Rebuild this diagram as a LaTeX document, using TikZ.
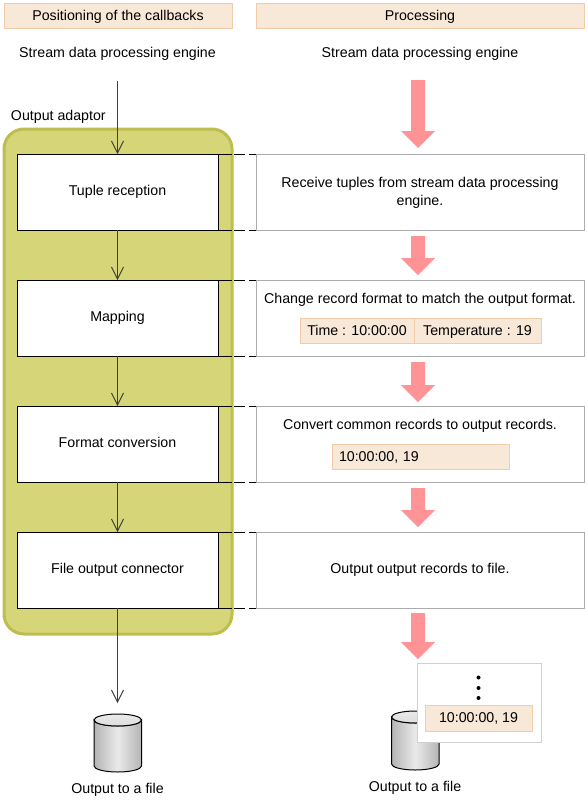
\documentclass[tikz,border=0pt]{standalone}
\usepackage{fontspec}
\setmainfont{Liberation Sans}
\usetikzlibrary{arrows.meta}
\definecolor{peachf}{HTML}{F8E8D8}
\definecolor{peachd}{HTML}{F0CCA8}
\definecolor{yelf}{HTML}{D6D678}
\definecolor{yeld}{HTML}{BDBD50}
\definecolor{pinka}{HTML}{FF9396}
\definecolor{linec}{HTML}{404040}
\definecolor{boxg}{HTML}{ABABAB}
\definecolor{cyls}{HTML}{B4B4B4}
\definecolor{cylm}{HTML}{EAEAEA}
\newcommand{\pinkarrow}[2]{\fill[pinka] (411,#1) -- (425,#1) -- (425,#2-17) -- (435,#2-17) -- (418,#2) -- (401,#2-17) -- (411,#2-17) -- cycle;}
\newcommand{\cyl}[3]{%
 \shade[left color=cyls,right color=cyls,middle color=cylm,draw=black,line width=.75pt]
  (#1,#2+6) -- ++(0,#3-12)
  arc[start angle=180,end angle=360,x radius=23.75,y radius=-6] -- ++(0,-#3+12)
  arc[start angle=0,end angle=-180,x radius=23.75,y radius=-6] -- cycle;
 \shade[top color=cylm,bottom color=cylm!75!cyls,draw=black,line width=.75pt]
  (#1+23.75,#2+6) ellipse[x radius=23.75,y radius=6];}
\tikzset{
 x=0.75pt,y=-0.75pt,
 txt/.style={font=\fontsize{10.65}{13.5}\selectfont,inner sep=0pt,outer sep=0pt,align=center,text=black},
 sl/.style={txt,text height=7pt,text depth=2.5pt},
 hdr/.style={txt,text height=8.5pt,text depth=1.7pt,draw=peachd,fill=peachf,line width=.75pt,anchor=north west,minimum height=18.75pt},
 stage/.style={txt,text height=7.7pt,text depth=2.5pt,draw=black,fill=white,line width=.75pt,anchor=north west,minimum width=150.75pt,minimum height=57pt},
 descbox/.style={draw=boxg,fill=white,line width=.75pt,anchor=north west,minimum width=246pt,minimum height=57pt,inner sep=0pt,outer sep=0pt},
 rec/.style={hdr},
 flow/.style={draw=linec,line width=.75pt,-{Straight Barb[length=9pt,width=9pt,line width=.75pt]}},
 bracket/.style={draw=black,line width=.75pt,dash pattern=on 10.5pt off 1.5pt on 8.25pt off 3pt on 5.25pt},
}
\begin{document}
\begin{tikzpicture}
\useasboundingbox (0,0) rectangle (588,800);
\fill[white] (0,0) rectangle (588,800);
% headers
\node[hdr,minimum width=171pt] (h1) at (4,3) {Positioning of the callbacks};
\node[hdr,minimum width=246pt] (h2) at (256,3) {Processing};
\node[sl] (s1) at (117.5,54) {Stream data processing engine};
\node[sl] (s2) at (420,54) {Stream data processing engine};
\node[sl,anchor=west] (oa) at (11,117) {Output adaptor};
% adaptor
\draw[fill=yelf,draw=yeld,line width=2.25pt,rounded corners=15pt] (4,129) rectangle (232,634);
% description boxes
\node[descbox] (d1) at (256,154) {};
\node[descbox] (d2) at (256,280) {};
\node[descbox] (d3) at (256,406) {};
\node[descbox] (d4) at (256,532) {};
% stages
\node[stage] (a1) at (17,154) {Tuple reception};
\node[stage] (a2) at (17,280) {Mapping};
\node[stage] (a3) at (17,406) {Format conversion};
\node[stage] (a4) at (17,532) {File output connector};
% brackets
\foreach \i in {1,...,4}{
 \draw[bracket] (a\i.north east) -- (d\i.north west);
 \draw[bracket] (a\i.south east) -- (d\i.south west);
}
% flow
\coordinate (inL) at (117.5,81);
\coordinate (outL) at (117.5,703);
\draw[flow] (inL) -- (a1.north);
\draw[flow] (a1.south) -- (a2.north);
\draw[flow] (a2.south) -- (a3.north);
\draw[flow] (a3.south) -- (a4.north);
\draw[flow] (a4.south) -- (outL);
% pink
\pinkarrow{80}{148}
\pinkarrow{236}{275}
\pinkarrow{362}{402}
\pinkarrow{488}{527}
\pinkarrow{613}{659}
% description text
\node[txt] (t1) at (420,192.5) {Receive tuples from stream data processing\\engine.};
\node[sl] (t2) at (420,300) {Change record format to match the output format.};
\node[sl] (t3) at (420,426) {Convert common records to output records.};
\node[sl] (t4) at (420,570) {Output output records to file.};
\node[rec,minimum width=85.5pt] (r1) at (300,318) {Time : 10:00:00};
\node[rec,minimum width=95.25pt] (r2) at (414,318) {Temperature : 19};
\node[rec,text width=122.25pt,inner xsep=5.25pt,align=left] (r3) at (332,444) {10:00:00, 19};
% cylinders
\cyl{94}{714}{58}
\node[sl] (o1) at (117.5,790) {Output to a file};
\cyl{391.5}{711}{59}
\node[sl] (o2) at (415,788) {Output to a file};
% popup
\node[draw=black!18,fill=white,line width=.75pt,anchor=north west,minimum width=93pt,minimum height=59.25pt,inner sep=0pt,outer sep=0pt] (p) at (417,663) {};
\foreach \y in {677.5,688,698}{\fill[black] (478.5,\y) circle[radius=2];}
\node[rec,minimum width=80.25pt,minimum height=19.5pt] (r4) at (425,705) {10:00:00, 19};
\end{tikzpicture}
\end{document}
